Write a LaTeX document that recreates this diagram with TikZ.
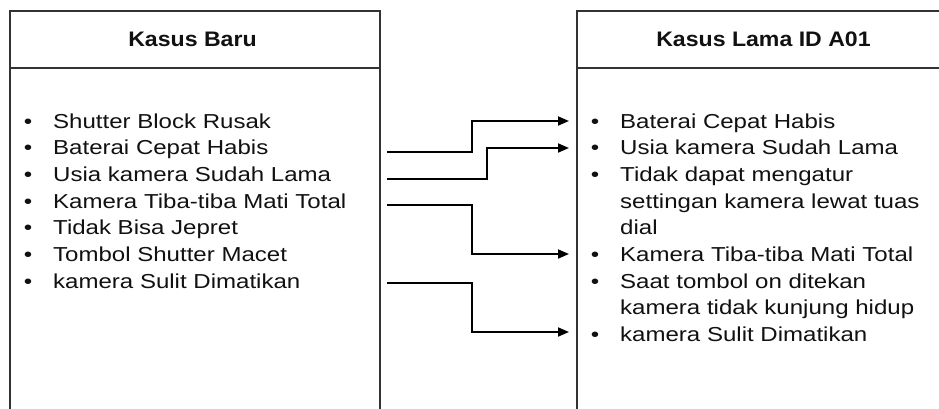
\documentclass[tikz,border=0pt]{standalone}
\usepackage{fontspec}
\usetikzlibrary{arrows.meta}
\newfontfamily\itemfont{Liberation Sans}[FakeStretch=1.19]
\newfontfamily\headfont{Liberation Sans}[FakeStretch=1.1]
\definecolor{frame}{HTML}{333333}
\definecolor{ink}{HTML}{111111}
\tikzset{
  panel/.style={draw=frame, line width=2pt, rectangle, inner sep=0pt},
  head/.style={anchor=base, inner sep=0pt, text=ink, font=\headfont\bfseries\fontsize{21}{25}\selectfont},
  item/.style={anchor=base west, inner sep=0pt, text=ink, font=\itemfont\fontsize{20.2}{26}\selectfont},
  link/.style={draw=black, line width=1.8pt, -{Triangle[length=11pt,width=9pt]}}
}
\newcommand{\bul}{\llap{\textbullet\hspace{21pt}}}
\begin{document}
\begin{tikzpicture}[x=1pt,y=-1pt]
\useasboundingbox (0,0) rectangle (939,408);
\fill[white] (0,0) rectangle (939,408);
\clip (0,0) rectangle (939,408);

% the two case panels
\node[panel, minimum width=370pt, minimum height=409pt] (baru) at (195,215.5) {};
\node[panel, minimum width=370pt, minimum height=409pt] (lama) at (762,215.5) {};
\draw[frame, line width=2pt] (baru.west |- 0,68) -- (baru.east |- 0,68);
\draw[frame, line width=2pt] (lama.west |- 0,68) -- (lama.east |- 0,68);

\node[head] (hbaru) at (192.5,46.5) {Kasus Baru};
\node[head] (hlama) at (763.5,46.5) {Kasus Lama ID A01};

% new case symptoms
\node[item] (b1) at (53,128)   {\bul Shutter Block Rusak};
\node[item] (b2) at (53,154.7) {\bul Baterai Cepat Habis};
\node[item] (b3) at (53,181.3) {\bul Usia kamera Sudah Lama};
\node[item] (b4) at (53,208)   {\bul Kamera Tiba-tiba Mati Total};
\node[item] (b5) at (53,234.7) {\bul Tidak Bisa Jepret};
\node[item] (b6) at (53,261.3) {\bul Tombol Shutter Macet};
\node[item] (b7) at (53,288)   {\bul kamera Sulit Dimatikan};

% stored case A01 symptoms
\node[item] (l1)  at (620,128)   {\bul Baterai Cepat Habis};
\node[item] (l2)  at (620,154.7) {\bul Usia kamera Sudah Lama};
\node[item] (l3)  at (620,181.3) {\bul Tidak dapat mengatur};
\node[item] (l3b) at (620,208)   {settingan kamera lewat tuas};
\node[item] (l3c) at (620,234.7) {dial};
\node[item] (l4)  at (620,261.3) {\bul Kamera Tiba-tiba Mati Total};
\node[item] (l5)  at (620,288)   {\bul Saat tombol on ditekan};
\node[item] (l5b) at (620,314.7) {kamera tidak kunjung hidup};
\node[item] (l6)  at (620,341.3) {\bul kamera Sulit Dimatikan};

% connector ends
\coordinate (s1) at (387,152);
\coordinate (s2) at (387,179);
\coordinate (s3) at (387,205);
\coordinate (s4) at (387,283);
\coordinate (t1) at (569,121);
\coordinate (t2) at (569,148);
\coordinate (t3) at (569,254);
\coordinate (t4) at (569,332);

% matching symptoms
\draw[link] (s1) -- ++(85,0) |- (t1);
\draw[link] (s2) -- ++(100,0) |- (t2);
\draw[link] (s3) -- ++(85,0) |- (t3);
\draw[link] (s4) -- ++(85,0) |- (t4);
\end{tikzpicture}
\end{document}
